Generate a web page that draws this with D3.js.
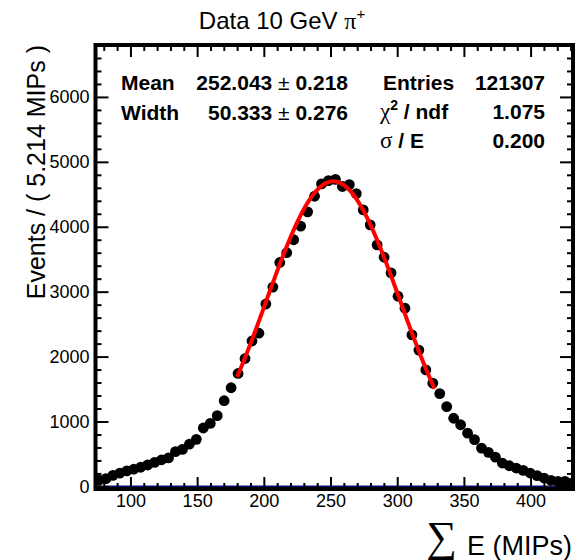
<!DOCTYPE html>
<html>
<head>
<meta charset="utf-8">
<script src="https://cdn.jsdelivr.net/npm/d3@7"></script>
<style>
  body { margin: 0; background: #fff; }
  svg { display: block; font-family: "Liberation Sans", Arial, sans-serif; }
</style>
</head>
<body>
<svg width="576" height="560"></svg>
<script>
// histogram binning (Events / 5.214 MIPs)
const binLow = 73.8;
const binWidth = 5.214;
const counts = [
  95, 120, 170, 205, 240, 265, 295, 330, 370, 410,
  440, 535, 570, 650, 725, 900, 970, 1090, 1320, 1520,
  1740, 1970, 2240, 2360, 2810, 3070, 3450, 3600, 3800, 4010,
  4230, 4470, 4660, 4710, 4730, 4620, 4650, 4510, 4260, 4030,
  3720, 3530, 3290, 2930, 2745, 2335, 2100, 1795, 1590, 1430,
  1230, 1050, 950, 820, 720, 590, 525, 450, 360, 318,
  283, 246, 206, 165, 129, 92, 77, 77, 52
];

// axis ticks
const xTicks = [100, 150, 200, 250, 300, 350, 400];
const xMinor = d3.range(80, 431, 10).filter(v => v % 50 !== 0);
const yTicks = [0, 1000, 2000, 3000, 4000, 5000, 6000];
const yMinor = d3.range(200, 6800, 200).filter(v => v % 1000 !== 0);

// gaussian fit parameters
const fitMean = 252.043;
const fitWidth = 50.333;
const fitPeak = 4700;
const fitRange = [180, 328];

// stats box rows
const statsLeft = [["Mean", "252.043", "0.218"], ["Width", "50.333", "0.276"]];
const statsRight = [["Entries", "121307"], ["χ² / ndf", "1.075"], ["σ / E", "0.200"]];

function drawChart() {
    let svg = d3.select("svg");

    // область рисования (рамка)
    let area = { left: 95.5, right: 573, top: 45, bottom: 489 };

    let scX = d3.scaleLinear().domain([binLow, 431.8]).range([area.left, area.right]);
    let scY = d3.scaleLinear().domain([-40, 6800]).range([area.bottom, area.top]);

    svg.append("clipPath").attr("id", "frameClip")
        .append("rect")
        .attr("x", area.left).attr("y", area.top)
        .attr("width", area.right - area.left).attr("height", area.bottom - area.top);

    // zero line
    svg.append("line")
        .attr("x1", area.left).attr("x2", area.right)
        .attr("y1", scY(0)).attr("y2", scY(0))
        .attr("stroke", "#0b0b6e").attr("stroke-width", 2);

    drawAxes(svg, scX, scY, area);

    // data points
    let pts = counts.map((c, i) => ({ x: binLow + (i + 0.5) * binWidth, y: c }));
    svg.append("g").attr("clip-path", "url(#frameClip)")
        .selectAll("circle")
        .data(pts)
        .enter()
        .append("circle")
        .attr("cx", d => scX(d.x))
        .attr("cy", d => scY(d.y))
        .attr("r", 5.4)
        .attr("fill", "black");

    // fit curve
    let fitPts = d3.range(fitRange[0], fitRange[1] + 0.01, 1)
        .map(x => [x, fitPeak * Math.exp(-0.5 * Math.pow((x - fitMean) / fitWidth, 2))]);
    svg.append("path")
        .datum(fitPts)
        .attr("d", d3.line().x(d => scX(d[0])).y(d => scY(d[1])))
        .attr("fill", "none")
        .attr("stroke", "#ff0000")
        .attr("stroke-width", 4);

    // frame
    svg.append("rect")
        .attr("x", area.left).attr("y", area.top)
        .attr("width", area.right - area.left).attr("height", area.bottom - area.top)
        .attr("fill", "none").attr("stroke", "black").attr("stroke-width", 4);

    drawTexts(svg, area);
}

function drawAxes(svg, scX, scY, area) {
    const fmt = d3.format("d");
    const axes = [
        [d3.axisBottom(scX).tickValues(xTicks).tickSize(-12).tickPadding(5).tickFormat(fmt), `translate(0,${area.bottom})`, true],
        [d3.axisBottom(scX).tickValues(xMinor).tickSize(-6).tickFormat(""), `translate(0,${area.bottom})`, false],
        [d3.axisTop(scX).tickValues(xTicks).tickSize(-12).tickFormat(""), `translate(0,${area.top})`, false],
        [d3.axisTop(scX).tickValues(xMinor).tickSize(-6).tickFormat(""), `translate(0,${area.top})`, false],
        [d3.axisLeft(scY).tickValues(yTicks).tickSize(-13).tickPadding(6).tickFormat(fmt), `translate(${area.left},0)`, true],
        [d3.axisLeft(scY).tickValues(yMinor).tickSize(-6).tickFormat(""), `translate(${area.left},0)`, false],
        [d3.axisRight(scY).tickValues(yTicks).tickSize(-13).tickFormat(""), `translate(${area.right},0)`, false],
        [d3.axisRight(scY).tickValues(yMinor).tickSize(-6).tickFormat(""), `translate(${area.right},0)`, false]
    ];
    for (let [ax, tr, labels] of axes) {
        let g = svg.append("g").attr("transform", tr).call(ax);
        g.select(".domain").remove();
        g.selectAll("line").attr("stroke-width", 2);
        if (labels) {
            g.selectAll("text")
                .attr("font-size", 18)
                .attr("font-family", "Liberation Sans, Arial, sans-serif")
                .attr("fill", "black");
        }
    }
}

function drawTexts(svg, area) {
    // title
    let title = svg.append("text")
        .attr("x", 282).attr("y", 29)
        .attr("text-anchor", "middle")
        .attr("font-size", 24);
    title.append("tspan").text("Data 10 GeV ");
    title.append("tspan").attr("font-family", "Liberation Serif, serif").text("π");
    title.append("tspan").attr("font-size", 15).attr("dy", -10).text("+");

    // y title
    svg.append("text")
        .attr("transform", `translate(45,${area.top}) rotate(-90)`)
        .attr("text-anchor", "end")
        .attr("font-size", 25)
        .text("Events / ( 5.214 MIPs )");

    // x title
    svg.append("text")
        .attr("x", 572).attr("y", 555)
        .attr("text-anchor", "end")
        .attr("font-size", 27)
        .text("E (MIPs)");
    svg.append("text")
        .attr("x", 457).attr("y", 551)
        .attr("text-anchor", "end")
        .attr("font-size", 43)
        .attr("font-family", "Liberation Serif, serif")
        .text("∑");

    // stats box
    let st = svg.append("g").attr("font-size", 21).attr("font-weight", "bold");
    statsLeft.forEach((r, i) => {
        let y = 90 + i * 30;
        st.append("text").attr("x", 121).attr("y", y).text(r[0]);
        let v = st.append("text").attr("x", 348).attr("y", y).attr("text-anchor", "end");
        v.append("tspan").text(r[1] + " ");
        v.append("tspan").attr("font-weight", "normal").text("±");
        v.append("tspan").text(" " + r[2]);
    });
    statsRight.forEach((r, i) => {
        let y = 90 + i * 29.2;
        let lab = st.append("text").attr("x", i === 0 ? 383 : 380).attr("y", y);
        if (i === 0) {
            lab.text(r[0]);
        } else {
            let parts = r[0].split(" / ");
            let greek = parts[0].charAt(0);
            lab.append("tspan").attr("font-weight", "normal").attr("font-family", "Liberation Serif, serif")
                .attr("font-size", 23).text(greek);
            if (parts[0].length > 1) {
                lab.append("tspan").attr("font-size", 14).attr("dy", -9).text("2");
                lab.append("tspan").attr("dy", 9).text(" / " + parts[1]);
            } else {
                lab.append("tspan").text(" / " + parts[1]);
            }
        }
        st.append("text").attr("x", 545).attr("y", y).attr("text-anchor", "end").text(r[1]);
    });
}

drawChart();
</script>
</body>
</html>
